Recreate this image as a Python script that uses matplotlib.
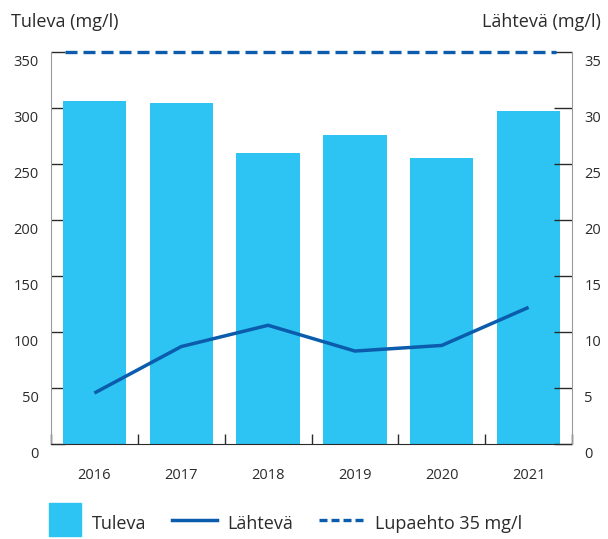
import matplotlib
matplotlib.use("Agg")
import matplotlib.pyplot as plt
import matplotlib.patches as mpatches
from matplotlib.lines import Line2D
from matplotlib.legend_handler import HandlerPatch
from matplotlib.transforms import ScaledTranslation

plt.rcParams['font.family'] = ['Open Sans', 'DejaVu Sans']

years = ["2016", "2017", "2018", "2019", "2020", "2021"]
tuleva = [306, 304.5, 260, 276, 255, 297]
lahteva = [4.55, 8.7, 10.6, 8.3, 8.8, 12.2]
lupaehto = 35

left_ticks = [0, 50, 100, 150, 200, 250, 300, 350]
right_ticks = [0, 5, 10, 15, 20, 25, 30, 35]

bar_col = "#2dc4f3"
line_col = "#0b5cad"
txt_col = "#2b2b2b"
spine_grey = "#9a9a9a"

fig = plt.figure(figsize=(6.08, 5.39), dpi=100)
ax = fig.add_axes([51/608, 1 - 444/539, 521/608, 392/539])
ax2 = ax.twinx()

x = list(range(len(years)))
ax.bar(x, tuleva, width=0.73, color=bar_col, zorder=2)
ax.set_xlim(-0.5, len(years) - 0.5)
ax.set_ylim(0, 350)
ax2.set_ylim(0, 35)

ax2.plot(x, lahteva, color=line_col, lw=2.5, solid_capstyle='butt')
ax2.hlines(lupaehto, -0.34, 5.32, color=line_col, lw=2.4,
           linestyles=(0, (3.6, 1.8)), clip_on=False)

# ticks
ax.set_xticks(x, years)
ax.set_xticks([i - 0.5 for i in range(len(years) + 1)], minor=True)
ax.tick_params(axis='x', which='major', length=0, pad=17, labelsize=10.5, labelcolor=txt_col)
ax.tick_params(axis='x', which='minor', direction='in', length=7, width=1, color=txt_col)

ax.set_yticks(left_ticks, [str(t) for t in left_ticks], va='top')
ax.tick_params(axis='y', direction='in', length=10, width=1, color=txt_col,
               pad=9, labelsize=10.5, labelcolor=txt_col)
ax2.set_yticks(right_ticks, [str(t) for t in right_ticks], va='top')
ax2.tick_params(axis='y', direction='in', length=13, width=1, color=txt_col,
                pad=9, labelsize=10.5, labelcolor=txt_col)
# labels sit a bit below their ticks in the original
shift = ScaledTranslation(0, -3/100, fig.dpi_scale_trans)
for lbl in ax.get_yticklabels() + ax2.get_yticklabels():
    lbl.set_va('top')
    lbl.set_transform(lbl.get_transform() + shift)

for a in (ax, ax2):
    a.spines['top'].set_visible(False)
ax.spines['right'].set_visible(False)
ax2.spines['left'].set_visible(False)
ax2.spines['bottom'].set_visible(False)
ax.spines['left'].set_color(spine_grey)
ax2.spines['right'].set_color(spine_grey)
ax.spines['bottom'].set_color(txt_col)
ax.spines['bottom'].set_zorder(3)

fig.text(11/608, 1 - 22/539, "Tuleva (mg/l)", ha='left', va='center', fontsize=13, color=txt_col)
fig.text(601/608, 1 - 22/539, "Lähtevä (mg/l)", ha='right', va='center', fontsize=13, color=txt_col)


def square(legend, orig_handle, xdescent, ydescent, width, height, fontsize):
    side = height + ydescent
    return mpatches.Rectangle((-xdescent + width - side, -ydescent), side, side)


handles = [mpatches.Patch(color=bar_col),
           Line2D([], [], color=line_col, lw=2.5),
           Line2D([], [], color=line_col, lw=2.4, ls=(0, (2.4, 1.2)))]
labels = ["Tuleva", "Lähtevä", "Lupaehto 35 mg/l"]
fig.legend(handles, labels, loc='center left', bbox_to_anchor=(36/608, 1 - 523/539),
           ncol=3, frameon=False, fontsize=13, labelcolor=txt_col,
           handlelength=2.5, handleheight=1.8, handletextpad=0.6,
           columnspacing=1.4, borderpad=0, borderaxespad=0,
           handler_map={mpatches.Patch: HandlerPatch(patch_func=square)})

fig.savefig("out.png", dpi=100)
